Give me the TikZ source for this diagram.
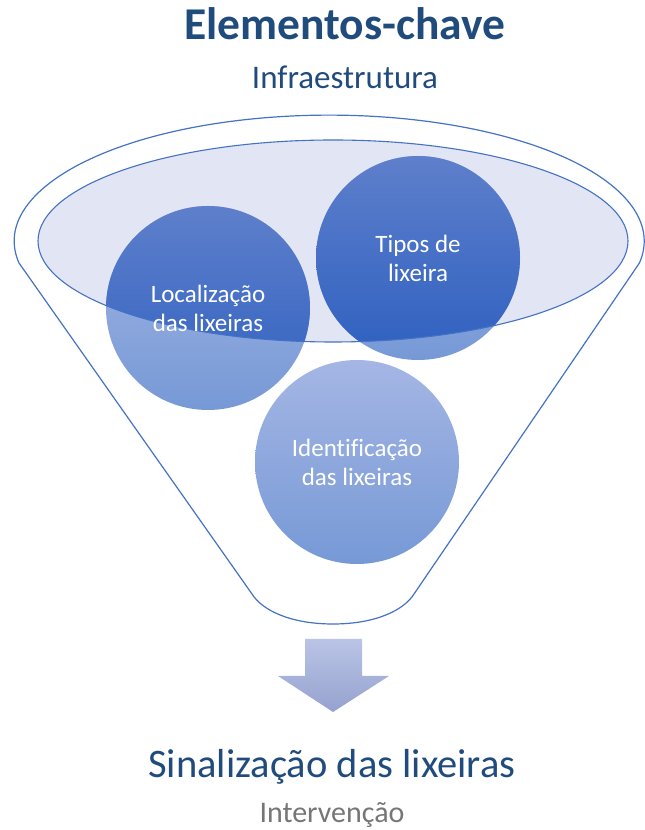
\documentclass[tikz,border=0pt]{standalone}
\usepackage{fontspec}
\setmainfont[Ligatures=NoCommon]{Carlito}
\definecolor{edgeblue}{RGB}{68,114,196}
\definecolor{bowlfill}{RGB}{226,229,243}
\definecolor{titleblue}{RGB}{31,75,125}
\definecolor{subgrey}{RGB}{118,118,118}
\definecolor{paletop}{RGB}{165,182,228}
\definecolor{palebot}{RGB}{118,153,214}
\definecolor{deeptop}{RGB}{94,127,203}
\definecolor{deepbot}{RGB}{46,96,192}
\definecolor{arrowtop}{RGB}{186,196,230}
\definecolor{arrowbot}{RGB}{150,162,207}
\tikzset{
  ball/.style={circle, minimum size=204pt, inner sep=0pt, draw=none,
    top color=paletop, bottom color=palebot},
  balltext/.style={align=center, text=white, font=\fontsize{25}{29}\selectfont},
  funnel/.style={draw=edgeblue, line width=1.2pt},
}
\begin{document}
\begin{tikzpicture}[x=1pt, y=1pt]
\useasboundingbox (0,0) rectangle (645,830);
\clip (0,0) rectangle (645,830);

% headings
\node[anchor=base, text=titleblue, font=\fontsize{45.5}{48}\selectfont\bfseries] (title) at (345,790) {Elementos-chave};
\node[anchor=base, text=titleblue, font=\fontsize{33}{36}\selectfont] (sub) at (345,741) {Infraestrutura};

% funnel body
\draw[funnel, fill=white] (19,567) arc[start angle=190, end angle=-10, x radius=315, y radius=126]
  -- (414,236) .. controls (404,220) and (376,206) .. (333,206)
  .. controls (290,206) and (262,220) .. (252,236) -- cycle;

% mouth of the funnel
\fill[bowlfill] (333,589) ellipse[x radius=295, y radius=101];

% the three items, pale outside the mouth
\node[ball] (loc) at (208,522) {};
\node[ball] (tip) at (418,572) {};
\node[ball] (ide) at (357,368) {};

% deeper shade where the items sit inside the mouth
\begin{scope}
  \clip (333,589) ellipse[x radius=295, y radius=101];
  \shade[top color=deeptop, bottom color=deepbot] (loc.center) circle[radius=102];
  \shade[top color=deeptop, bottom color=deepbot] (tip.center) circle[radius=102];
\end{scope}
\draw[edgeblue, line width=1.1pt] (333,589) ellipse[x radius=295, y radius=101];

% item labels
\node[balltext] (locT) at (loc) {Localização\\das lixeiras};
\node[balltext] (tipT) at (tip) {Tipos de\\lixeira};
\node[balltext] (ideT) at (ide) {Identificação\\das lixeiras};

% block arrow under the funnel
\shade[top color=arrowtop, bottom color=arrowbot]
  (305,191) -- (362,191) -- (362,154) -- (389,154) -- (333,118) -- (278,154) -- (305,154) -- cycle;

% outcome
\node[anchor=base, text=titleblue, font=\fontsize{40.5}{44}\selectfont] (out) at (332,52) {Sinalização das lixeiras};
\node[anchor=base, text=subgrey, font=\fontsize{30}{34}\selectfont] (outsub) at (332,7) {Intervenção};
\end{tikzpicture}
\end{document}
